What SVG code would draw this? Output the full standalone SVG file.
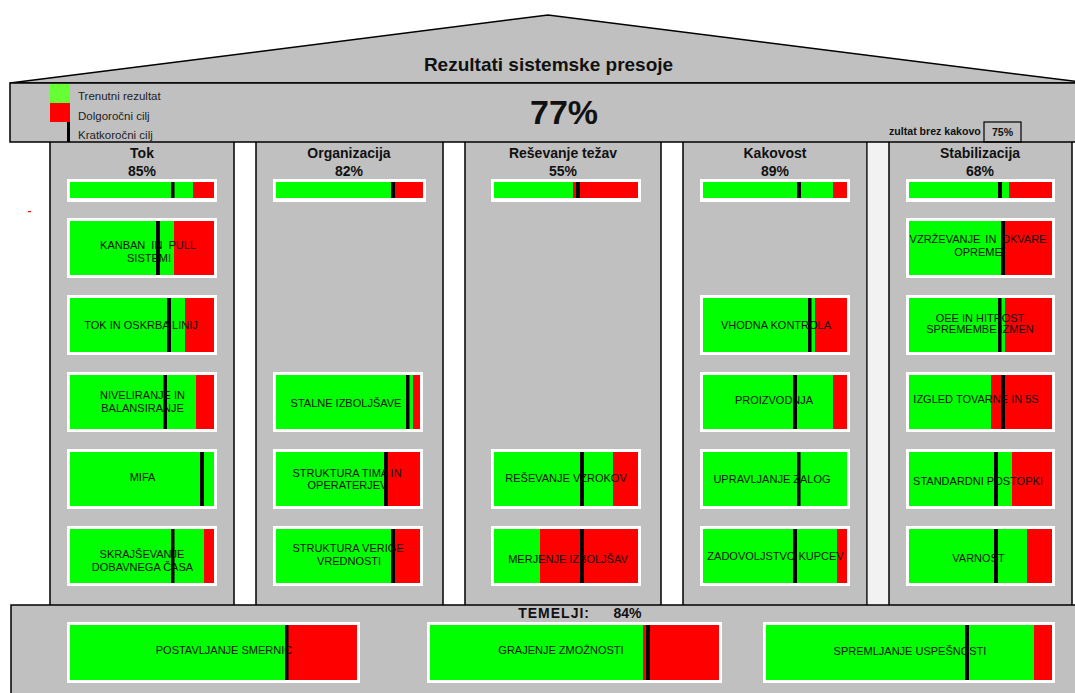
<svg xmlns="http://www.w3.org/2000/svg" width="1075" height="693" viewBox="0 0 1075 693">
<style>
.bg{fill:#fff}
.gray{fill:#c0c0c0;stroke:#000;stroke-width:1.5}
.fr{fill:#fff}
.g{fill:#00ff00}
.r{fill:#ff0000}
.k{fill:#000}
text{font-family:"Liberation Sans",Arial,sans-serif}
.lbl{font-size:11px;text-anchor:middle;fill:#111}
.hd{font-size:14px;font-weight:bold;text-anchor:middle;fill:#111}
.leg{font-size:11.5px;fill:#222}
</style>
<rect class="bg" x="0" y="0" width="1075" height="693"/>
<g id="roof">
<polygon class="gray" points="10,83 548,15 1088,83"/>
<text x="548.5" y="70.5" font-size="19" font-weight="bold" text-anchor="middle" fill="#111">Rezultati sistemske presoje</text>
</g>
<g id="columns">
<rect class="gray" x="50" y="130" width="184" height="480"/>
<rect class="gray" x="256" y="130" width="187" height="480"/>
<rect class="gray" x="465" y="130" width="196" height="480"/>
<rect class="gray" x="683" y="130" width="184" height="480"/>
<rect x="867.8" y="142" width="20.4" height="462" fill="#f2f2f2"/>
<rect class="gray" x="889" y="130" width="183" height="480"/>
</g>
<g id="header">
<rect class="gray" x="10" y="83" width="1075" height="59"/>
<rect x="50" y="84" width="20" height="19" fill="#66ff33"/>
<rect x="50" y="103" width="20" height="19" class="r"/>
<rect x="67" y="122" width="3" height="20" class="k"/>
<text class="leg" x="78" y="100">Trenutni rezultat</text>
<text class="leg" x="78" y="120">Dolgoročni cilj</text>
<text class="leg" x="78" y="139">Kratkoročni cilj</text>
<text x="564" y="124" font-size="34" font-weight="bold" text-anchor="middle" fill="#111">77%</text>
<text x="889" y="135" font-size="10.6" font-weight="bold" fill="#111">zultat brez kakovo</text>
<rect x="984" y="122" width="37" height="20" fill="none" stroke="#000" stroke-width="1.2"/>
<text x="1002.5" y="136" font-size="10.6" font-weight="bold" text-anchor="middle" fill="#111">75%</text>
</g>
<rect x="28" y="211" width="3" height="1.2" class="r"/>
<g id="foundation">
<rect class="gray" x="11" y="605" width="1075" height="95"/>
<text x="590" y="618" font-size="14" font-weight="bold" text-anchor="end" letter-spacing="1" fill="#111">TEMELJI:</text>
<text x="627.5" y="618" font-size="14" font-weight="bold" text-anchor="middle" fill="#111">84%</text>
</g>

<!-- Column headings and summary bars -->
<g id="col-tok">
<text class="hd" x="142" y="158">Tok</text>
<text class="hd" x="142" y="176">85%</text>
<rect class="fr" x="67" y="179" width="150" height="23"/>
<rect class="g" x="70" y="182" width="144" height="16"/>
<rect class="r" x="193" y="182" width="21" height="16"/>
<rect class="k" x="171" y="182" width="3.5" height="16"/>
</g>
<g id="col-organizacija">
<text class="hd" x="349" y="158">Organizacija</text>
<text class="hd" x="349" y="176">82%</text>
<rect class="fr" x="273" y="179" width="153" height="23"/>
<rect class="g" x="276" y="182" width="147" height="16"/>
<rect class="r" x="391" y="182" width="32" height="16"/>
<rect class="k" x="391" y="182" width="4" height="16"/>
</g>
<g id="col-resevanje">
<text class="hd" x="563" y="158">Reševanje težav</text>
<text class="hd" x="563" y="176">55%</text>
<rect class="fr" x="491" y="179" width="150" height="23"/>
<rect class="g" x="494" y="182" width="144" height="16"/>
<rect class="r" x="573" y="182" width="65" height="16"/>
<rect class="k" x="576" y="182" width="4" height="16"/>
</g>
<g id="col-kakovost">
<text class="hd" x="775" y="158">Kakovost</text>
<text class="hd" x="775" y="176">89%</text>
<rect class="fr" x="700" y="179" width="150" height="23"/>
<rect class="g" x="703" y="182" width="144" height="16"/>
<rect class="r" x="833" y="182" width="14" height="16"/>
<rect class="k" x="797" y="182" width="4" height="16"/>
</g>
<g id="col-stabilizacija">
<text class="hd" x="980" y="158">Stabilizacija</text>
<text class="hd" x="980" y="176">68%</text>
<rect class="fr" x="906" y="179" width="149" height="23"/>
<rect class="g" x="909" y="182" width="143" height="16"/>
<rect class="r" x="1009" y="182" width="43" height="16"/>
<rect class="k" x="998" y="182" width="4" height="16"/>
</g>

<!-- Tok items -->
<g id="kanban">
<rect class="fr" x="67" y="218" width="150" height="60"/>
<rect class="g" x="70" y="221" width="144" height="54"/>
<rect class="r" x="174" y="221" width="40" height="54"/>
<rect class="k" x="156" y="221" width="4" height="54"/>
<text class="lbl" x="148" y="249" word-spacing="3">KANBAN IN PULL</text>
<text class="lbl" x="149" y="262">SISTEMI</text>
</g>
<g id="tok-oskrba">
<rect class="fr" x="67" y="295" width="150" height="60"/>
<rect class="g" x="70" y="298" width="144" height="54"/>
<rect class="r" x="185" y="298" width="29" height="54"/>
<rect class="k" x="167" y="298" width="4" height="54"/>
<text class="lbl" x="141" y="329">TOK IN OSKRBA LINIJ</text>
</g>
<g id="niveliranje">
<rect class="fr" x="67" y="372" width="150" height="60"/>
<rect class="g" x="70" y="375" width="144" height="54"/>
<rect class="r" x="196" y="375" width="18" height="54"/>
<rect class="k" x="163.5" y="375" width="3.5" height="54"/>
<text class="lbl" x="142.5" y="399">NIVELIRANJE IN</text>
<text class="lbl" x="142.5" y="412">BALANSIRANJE</text>
</g>
<g id="mifa">
<rect class="fr" x="67" y="449" width="150" height="60"/>
<rect class="g" x="70" y="452" width="144" height="54"/>
<rect class="k" x="200" y="452" width="4" height="54"/>
<text class="lbl" x="142.5" y="481">MIFA</text>
</g>
<g id="skrajsevanje">
<rect class="fr" x="67" y="526" width="150" height="60"/>
<rect class="g" x="70" y="529" width="144" height="54"/>
<rect class="r" x="204" y="529" width="10" height="54"/>
<rect class="k" x="171" y="529" width="3.5" height="54"/>
<text class="lbl" x="142" y="558">SKRAJŠEVANJE</text>
<text class="lbl" x="142.5" y="571">DOBAVNEGA ČASA</text>
</g>

<!-- Organizacija items -->
<g id="stalne">
<rect class="fr" x="273" y="372" width="150" height="60"/>
<rect class="g" x="276" y="375" width="144" height="54"/>
<rect class="r" x="413" y="375" width="7" height="54"/>
<rect class="k" x="406" y="375" width="3.5" height="54"/>
<text class="lbl" x="346" y="407">STALNE IZBOLJŠAVE</text>
</g>
<g id="struktura-tima">
<rect class="fr" x="273" y="449" width="150" height="60"/>
<rect class="g" x="276" y="452" width="144" height="54"/>
<rect class="r" x="384" y="452" width="36" height="54"/>
<rect class="k" x="384" y="452" width="4" height="54"/>
<text class="lbl" x="347" y="477">STRUKTURA TIMA IN</text>
<text class="lbl" x="347.5" y="489">OPERATERJEV</text>
</g>
<g id="struktura-verige">
<rect class="fr" x="273" y="526" width="150" height="60"/>
<rect class="g" x="276" y="529" width="144" height="54"/>
<rect class="r" x="391" y="529" width="29" height="54"/>
<rect class="k" x="391" y="529" width="4" height="54"/>
<text class="lbl" x="348" y="552">STRUKTURA VERIGE</text>
<text class="lbl" x="349" y="565">VREDNOSTI</text>
</g>

<!-- Reševanje težav items -->
<g id="vzroki">
<rect class="fr" x="491" y="449" width="150" height="60"/>
<rect class="g" x="494" y="452" width="144" height="54"/>
<rect class="r" x="613" y="452" width="25" height="54"/>
<rect class="k" x="580" y="452" width="4" height="54"/>
<text class="lbl" x="566" y="482">REŠEVANJE VZROKOV</text>
</g>
<g id="merjenje">
<rect class="fr" x="491" y="526" width="150" height="60"/>
<rect class="g" x="494" y="529" width="144" height="54"/>
<rect class="r" x="540" y="529" width="98" height="54"/>
<rect class="k" x="580" y="529" width="4" height="54"/>
<text class="lbl" x="568" y="563">MERJENJE IZBOLJŠAV</text>
</g>

<!-- Kakovost items -->
<g id="vhodna">
<rect class="fr" x="700" y="295" width="150" height="60"/>
<rect class="g" x="703" y="298" width="144" height="54"/>
<rect class="r" x="815" y="298" width="32" height="54"/>
<rect class="k" x="808" y="298" width="3.5" height="54"/>
<text class="lbl" x="776" y="329">VHODNA KONTROLA</text>
</g>
<g id="proizvodnja">
<rect class="fr" x="700" y="372" width="150" height="60"/>
<rect class="g" x="703" y="375" width="144" height="54"/>
<rect class="r" x="833" y="375" width="14" height="54"/>
<rect class="k" x="793" y="375" width="4" height="54"/>
<text class="lbl" x="774" y="404">PROIZVODNJA</text>
</g>
<g id="zaloge">
<rect class="fr" x="700" y="449" width="150" height="60"/>
<rect class="g" x="703" y="452" width="144" height="54"/>
<rect class="k" x="797" y="452" width="3.5" height="54"/>
<text class="lbl" x="772" y="483">UPRAVLJANJE ZALOG</text>
</g>
<g id="zadovoljstvo">
<rect class="fr" x="700" y="526" width="150" height="60"/>
<rect class="g" x="703" y="529" width="144" height="54"/>
<rect class="r" x="837" y="529" width="10" height="54"/>
<rect class="k" x="793" y="529" width="4" height="54"/>
<text class="lbl" x="775.5" y="560">ZADOVOLJSTVO KUPCEV</text>
</g>

<!-- Stabilizacija items -->
<g id="vzdrzevanje">
<rect class="fr" x="906" y="218" width="149" height="60"/>
<rect class="g" x="909" y="221" width="143" height="54"/>
<rect class="r" x="1005" y="221" width="47" height="54"/>
<rect class="k" x="1001" y="221" width="4" height="54"/>
<text class="lbl" x="978" y="243" word-spacing="2">VZRŽEVANJE IN OKVARE</text>
<text class="lbl" x="978" y="256">OPREME</text>
</g>
<g id="oee">
<rect class="fr" x="906" y="295" width="149" height="60"/>
<rect class="g" x="909" y="298" width="143" height="54"/>
<rect class="r" x="1005" y="298" width="47" height="54"/>
<rect class="k" x="998" y="298" width="3.5" height="54"/>
<text class="lbl" x="980" y="322">OEE IN HITROST</text>
<text class="lbl" x="980" y="333">SPREMEMBE IZMEN</text>
</g>
<g id="izgled">
<rect class="fr" x="906" y="372" width="149" height="60"/>
<rect class="g" x="909" y="375" width="143" height="54"/>
<rect class="r" x="991" y="375" width="61" height="54"/>
<rect class="k" x="1001" y="375" width="4" height="54"/>
<text class="lbl" x="976" y="403">IZGLED TOVARNE IN 5S</text>
</g>
<g id="standardni">
<rect class="fr" x="906" y="449" width="149" height="60"/>
<rect class="g" x="909" y="452" width="143" height="54"/>
<rect class="r" x="1012" y="452" width="40" height="54"/>
<rect class="k" x="994" y="452" width="4" height="54"/>
<text class="lbl" x="978" y="485">STANDARDNI POSTOPKI</text>
</g>
<g id="varnost">
<rect class="fr" x="906" y="526" width="149" height="60"/>
<rect class="g" x="909" y="529" width="143" height="54"/>
<rect class="r" x="1027" y="529" width="25" height="54"/>
<rect class="k" x="994" y="529" width="4" height="54"/>
<text class="lbl" x="978.5" y="562">VARNOST</text>
</g>

<!-- Foundation items -->
<g id="smernice">
<rect class="fr" x="67" y="622" width="293" height="61"/>
<rect class="g" x="70" y="625" width="287" height="55"/>
<rect class="r" x="288" y="625" width="69" height="55"/>
<rect class="k" x="285" y="625" width="3.5" height="55"/>
<text class="lbl" x="224" y="654">POSTAVLJANJE SMERNIC</text>
</g>
<g id="zmoznosti">
<rect class="fr" x="427" y="622" width="295" height="61"/>
<rect class="g" x="430" y="625" width="289" height="55"/>
<rect class="r" x="643" y="625" width="76" height="55"/>
<rect class="k" x="646" y="625" width="4" height="55"/>
<text class="lbl" x="561" y="654">GRAJENJE ZMOŽNOSTI</text>
</g>
<g id="uspesnost">
<rect class="fr" x="763" y="622" width="292" height="61"/>
<rect class="g" x="766" y="625" width="286" height="55"/>
<rect class="r" x="1034" y="625" width="18" height="55"/>
<rect class="k" x="965" y="625" width="4" height="55"/>
<text class="lbl" x="910" y="655">SPREMLJANJE USPEŠNOSTI</text>
</g>
<g id="connectors"></g>
</svg>
